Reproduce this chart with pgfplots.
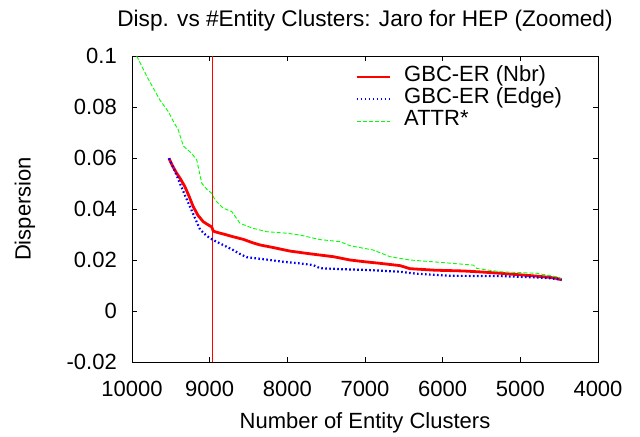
\documentclass[border=0pt]{standalone}
\usepackage{fontspec}
\setmainfont{Liberation Sans}
\usepackage{pgfplots}
\pgfplotsset{compat=1.18}
\begin{document}
\fontsize{22}{26}\selectfont
\begin{tikzpicture}
\begin{axis}[
  scale only axis, width=466pt, height=306pt,
  xmin=4000, xmax=10000, x dir=reverse,
  ymin=-0.02, ymax=0.1,
  scaled x ticks=false, scaled y ticks=false,
  xtick={4000,5000,6000,7000,8000,9000,10000},
  xticklabels={4000,5000,6000,7000,8000,9000,10000},
  ytick={-0.02,0,0.02,0.04,0.06,0.08,0.1},
  yticklabels={-0.02,0,0.02,0.04,0.06,0.08,0.1},
  tick align=inside, major tick length=5pt,
  tick style={black, line width=0.6pt},
  axis line style={black, line width=0.8pt},
  /pgf/number format/assume math mode=true,
  xticklabel style={inner sep=0pt, anchor=base, yshift=-34pt},
  yticklabel style={inner sep=0pt, anchor=east, xshift=-15pt},
  title={Disp. vs \#Entity Clusters: Jaro for HEP (Zoomed)},
  title style={at={(axis description cs:0.5,1.0784)}, anchor=base, inner sep=0pt, font=\fontsize{22.6}{26}\selectfont},
  xlabel={Number of Entity Clusters},
  xlabel style={at={(axis description cs:0.5,-0.2157)}, anchor=base, inner sep=0pt},
  ylabel={Dispersion},
  ylabel style={at={(axis description cs:-0.2296,0.5)}, anchor=center, inner sep=0pt},
  legend cell align=left,
  legend style={at={(axis description cs:0.479,0.968)}, anchor=north west,
    draw=none, fill=none, inner sep=0pt, column sep=13pt, row sep=0pt,
    nodes={inner sep=0pt, text height=16pt, text depth=6pt}},
  legend image code/.code={\draw[#1] (0pt,0pt) -- (33pt,0pt);},
]
\addplot[red, line width=0.8pt, forget plot] coordinates {(8970,-0.02) (8970,0.1)};
\addplot[red, line width=2.8pt, line join=round] coordinates {
(9524,0.0599) (9480,0.0570) (9424,0.0540) (9370,0.0515) (9318,0.0487)
(9265,0.0450) (9211,0.0409) (9150,0.0375) (9082,0.0350) (9020,0.0338)
(8974,0.0330) (8953,0.0313) (8900,0.0308) (8800,0.0300) (8696,0.0291)
(8567,0.0281) (8450,0.0268) (8352,0.0259) (8200,0.0250) (7966,0.0235)
(7700,0.0224) (7408,0.0213) (7193,0.0200) (7000,0.0193) (6807,0.0187)
(6550,0.0178) (6421,0.0166) (6100,0.0160) (5734,0.0157) (5500,0.0153)
(5262,0.0148) (4962,0.0141) (4800,0.0137) (4618,0.0132) (4520,0.0127) (4468,0.0122)};
\addlegendentry{GBC-ER (Nbr)}
\addplot[blue, line width=2.2pt, dash pattern=on 1.6pt off 2.4pt] coordinates {
(9524,0.0599) (9450,0.0550) (9382,0.0500) (9320,0.0455) (9253,0.0409)
(9190,0.0365) (9124,0.0320) (9040,0.0295) (8953,0.0278) (8820,0.0258)
(8696,0.0239) (8600,0.0222) (8523,0.0211) (8300,0.0203) (8052,0.0193)
(7850,0.0187) (7666,0.0180) (7580,0.0168) (7300,0.0164) (6978,0.0161)
(6550,0.0154) (6335,0.0146) (5906,0.0138) (5262,0.0137) (4833,0.0132)
(4600,0.0128) (4468,0.0122)};
\addlegendentry{GBC-ER (Edge)}
\addplot[green, line width=0.9pt, dash pattern=on 4pt off 2pt] coordinates {
(9940,0.1000) (9800,0.0915) (9640,0.0827) (9533,0.0782) (9470,0.0745)
(9404,0.0710) (9339,0.0647) (9231,0.0618) (9166,0.0592) (9102,0.0501)
(9030,0.0475) (8974,0.0462) (8931,0.0435) (8824,0.0403) (8716,0.0390)
(8609,0.0344) (8450,0.0325) (8266,0.0311) (8008,0.0305) (7837,0.0298)
(7580,0.0280) (7322,0.0272) (7193,0.0256) (6893,0.0239) (6678,0.0213)
(6421,0.0200) (6000,0.0190) (5606,0.0180) (5562,0.0167) (5262,0.0154)
(4790,0.0148) (4511,0.0133) (4480,0.0128)};
\addlegendentry{ATTR*}
\end{axis}
\path ([xshift=-132pt,yshift=-74pt]current axis.south west) rectangle ([xshift=42pt,yshift=56pt]current axis.north east);
\end{tikzpicture}
\end{document}
